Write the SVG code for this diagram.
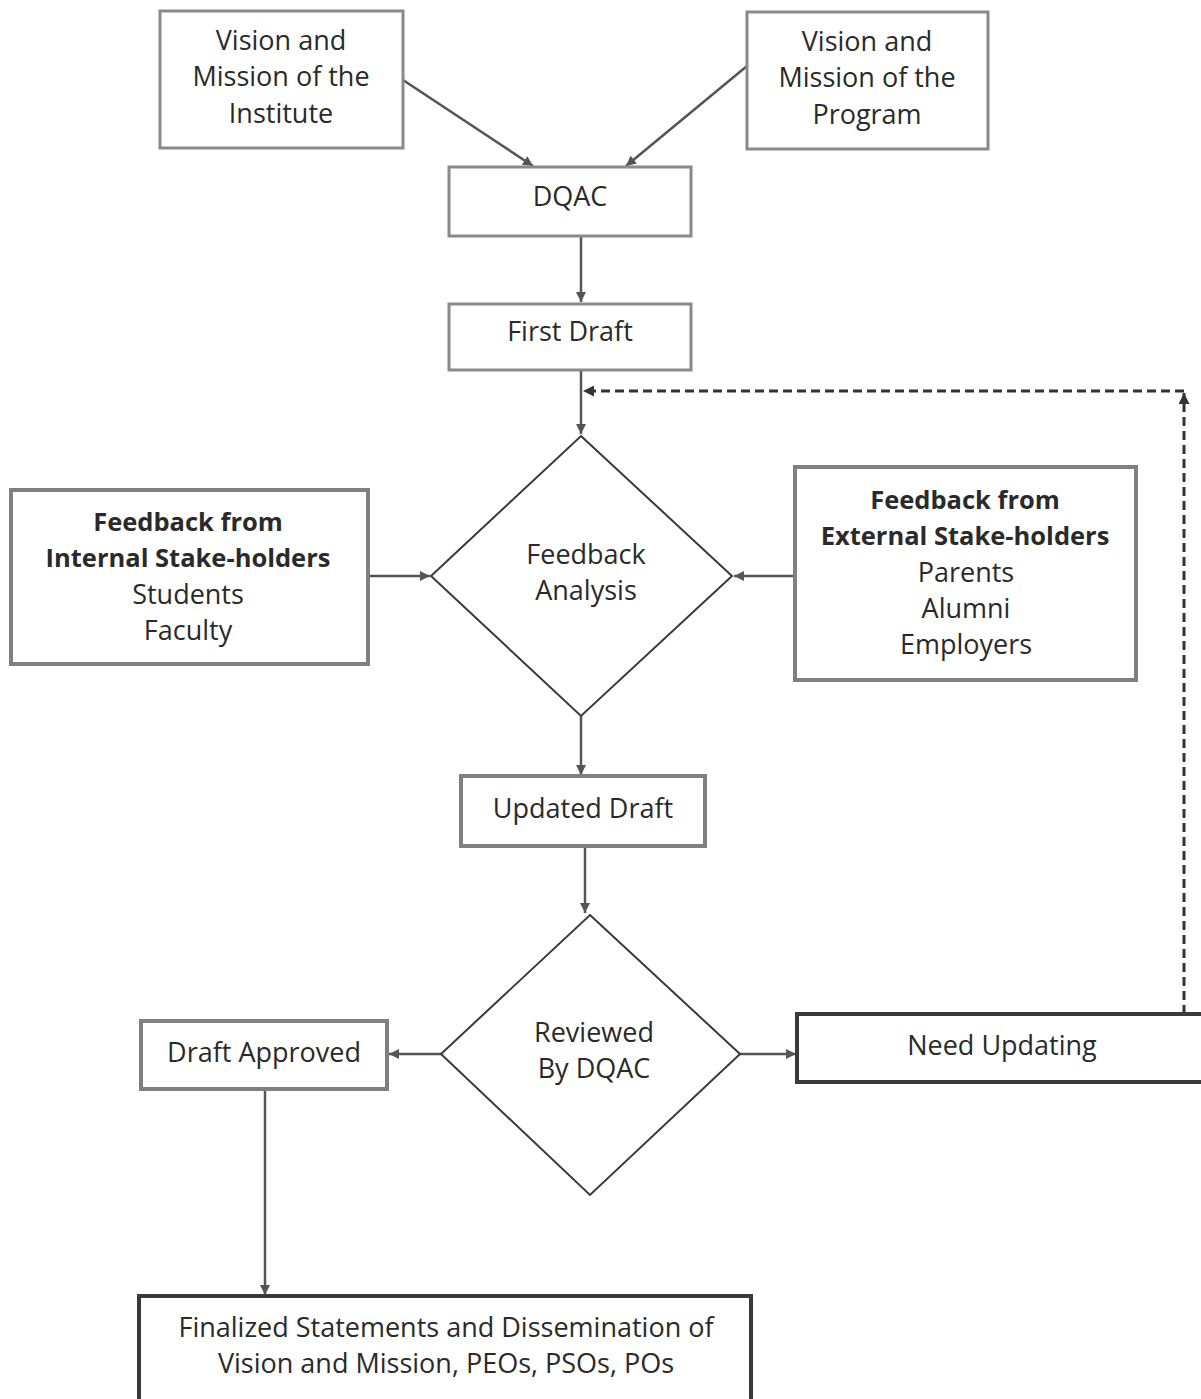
<svg xmlns="http://www.w3.org/2000/svg" width="1201" height="1399" viewBox="0 0 1201 1399">
<style>
text{font-family:"Open Sans","Noto Sans",sans-serif;font-size:27px;fill:#2a2a2a;text-anchor:middle}
.b{font-weight:bold;font-size:25.5px}
.box{fill:#fff;stroke:#8a8a8a;stroke-width:3}
.box2{fill:#fff;stroke:#808080;stroke-width:4}
.dark{fill:#fff;stroke:#3a3a3a;stroke-width:4}
.dia{fill:#fff;stroke:#3a3a3a;stroke-width:2}
.c{fill:none;stroke:#555;stroke-width:2.5}
.d{fill:none;stroke:#333;stroke-width:3;stroke-dasharray:9 5}
</style>
<defs>
<marker id="ah" viewBox="0 0 10 10" refX="10" refY="5" markerWidth="12" markerHeight="10" orient="auto" markerUnits="userSpaceOnUse">
<path d="M0,0 L10,5 L0,10 z" fill="#555"/>
</marker>
<marker id="ahd" viewBox="0 0 10 10" refX="10" refY="5" markerWidth="13" markerHeight="11" orient="auto" markerUnits="userSpaceOnUse">
<path d="M0,0 L10,5 L0,10 z" fill="#333"/>
</marker>
</defs>
<rect width="1201" height="1399" fill="#fff"/>
<g id="connectors">
<path class="c" d="M403,80 L533,166" marker-end="url(#ah)"/>
<path class="c" d="M747,66 L626,166" marker-end="url(#ah)"/>
<path class="c" d="M581,236 L581,302" marker-end="url(#ah)"/>
<path class="c" d="M581,370 L581,434" marker-end="url(#ah)"/>
<path class="d" d="M1184,1014 L1184,393" marker-end="url(#ahd)"/>
<path class="d" d="M1184,391 L583,391" marker-end="url(#ahd)"/>
<path class="c" d="M368,576 L430,576" marker-end="url(#ah)"/>
<path class="c" d="M795,576 L734,576" marker-end="url(#ah)"/>
<path class="c" d="M581,716 L581,775" marker-end="url(#ah)"/>
<path class="c" d="M585,846 L585,913" marker-end="url(#ah)"/>
<path class="c" d="M441,1054 L389,1054" marker-end="url(#ah)"/>
<path class="c" d="M740,1054 L796,1054" marker-end="url(#ah)"/>
<path class="c" d="M265,1089 L265,1295" marker-end="url(#ah)"/>
</g>
<g id="institute">
<rect class="box" x="160" y="11" width="243" height="137"/>
<text x="281" y="50">Vision and</text>
<text x="281" y="86">Mission of the</text>
<text x="281" y="123">Institute</text>
</g>
<g id="program">
<rect class="box" x="747" y="12" width="241" height="137"/>
<text x="867" y="51">Vision and</text>
<text x="867" y="87">Mission of the</text>
<text x="867" y="124">Program</text>
</g>
<g id="dqac">
<rect class="box" x="449" y="167" width="242" height="69"/>
<text x="570" y="206">DQAC</text>
</g>
<g id="firstdraft">
<rect class="box" x="449" y="304" width="242" height="66"/>
<text x="570" y="341">First Draft</text>
</g>
<g id="feedbackanalysis">
<polygon class="dia" points="581,436 732,576 581,716 431,576"/>
<text x="586" y="564">Feedback</text>
<text x="586" y="600">Analysis</text>
</g>
<g id="internal">
<rect class="box2" x="11" y="490" width="357" height="174"/>
<text class="b" x="188" y="531">Feedback from</text>
<text class="b" x="188" y="567">Internal Stake-holders</text>
<text x="188" y="604">Students</text>
<text x="188" y="640">Faculty</text>
</g>
<g id="external">
<rect class="box2" x="795" y="467" width="341" height="213"/>
<text class="b" x="965" y="509">Feedback from</text>
<text class="b" x="965" y="545">External Stake-holders</text>
<text x="966" y="582">Parents</text>
<text x="966" y="618">Alumni</text>
<text x="966" y="654">Employers</text>
</g>
<g id="updateddraft">
<rect class="box2" x="461" y="776" width="244" height="70"/>
<text x="583" y="818">Updated Draft</text>
</g>
<g id="reviewed">
<polygon class="dia" points="590,915 740,1054 590,1195 441,1054"/>
<text x="594" y="1042">Reviewed</text>
<text x="594" y="1078">By DQAC</text>
</g>
<g id="approved">
<rect class="box2" x="141" y="1021" width="246" height="68"/>
<text x="264" y="1062">Draft Approved</text>
</g>
<g id="needupdating">
<rect class="dark" x="797" y="1014" width="410" height="68"/>
<text x="1002" y="1055">Need Updating</text>
</g>
<g id="final">
<rect class="dark" x="139" y="1296" width="612" height="110"/>
<text x="446" y="1337">Finalized Statements and Dissemination of</text>
<text x="446" y="1373">Vision and Mission, PEOs, PSOs, POs</text>
</g>
</svg>
